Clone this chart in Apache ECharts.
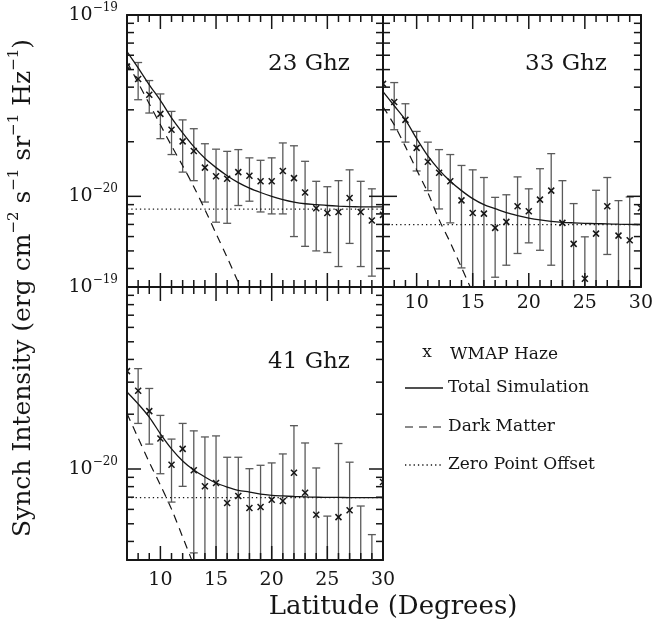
<!DOCTYPE html>
<html>
<head>
<meta charset="utf-8">
<script src="https://cdn.jsdelivr.net/npm/echarts@6/dist/echarts.min.js"></script>
<style>
  html, body { margin: 0; background: #fff; }
  #chart { width: 656px; height: 626px; }
  #err { position: absolute; left: 400px; top: 500px; font: 10px monospace; color: #c00; }
</style>
</head>
<body>
<div id="chart"></div>
<div id="err"></div>
<script>
// all intensities in units of 1e-20 erg cm^-2 s^-1 sr^-1 Hz^-1
const lat = [7, 8, 9, 10, 11, 12, 13, 14, 15, 16, 17, 18, 19, 20, 21, 22, 23, 24, 25, 26, 27, 28, 29, 30];

// 23 GHz
const haze23 = [5.19, 4.44, 3.63, 2.85, 2.33, 2.01, 1.78, 1.44, 1.29, 1.25, 1.36, 1.30, 1.21, 1.21, 1.38, 1.26, 1.05, 0.86, 0.81, 0.82, 0.98, 0.82, 0.735, 0.79];
const hi23 = [null, 5.47, 4.35, 3.67, 2.94, 2.64, 2.36, 1.95, 1.82, 1.77, 1.81, 1.63, 1.58, 1.63, 1.97, 1.90, 1.56, 1.21, 1.13, 1.22, 1.40, 1.21, 1.10, null];
const lo23 = [null, 3.41, 2.88, 2.08, 1.70, 1.36, 1.22, 0.93, 0.72, 0.71, 0.89, 0.94, 0.82, 0.80, 0.80, 0.60, 0.53, 0.50, 0.49, 0.41, 0.55, 0.41, 0.363, null];
const total23 = [6.28, 5.11, 4.12, 3.38, 2.71, 2.24, 1.88, 1.62, 1.44, 1.30, 1.19, 1.11, 1.05, 1.00, 0.96, 0.93, 0.91, 0.90, 0.89, 0.883, 0.878, 0.875, 0.874, 0.874];
const dmLat23 = [7, 8, 9, 10, 11, 12, 13, 14, 15, 16, 17, 18];
const dm23 = [5.51, 4.23, 3.24, 2.48, 1.90, 1.476, 1.13, 0.845, 0.623, 0.46, 0.335, 0.247];
const offset23 = 0.85;

// 33 GHz
const haze33 = [4.17, 3.31, 2.64, 1.85, 1.55, 1.35, 1.21, 0.95, 0.81, 0.803, 0.67, 0.723, 0.881, 0.827, 0.959, 1.075, 0.714, 0.547, 0.351, 0.623, 0.881, 0.607, 0.572, 0.863];
const hi33 = [null, 4.24, 3.24, 2.28, 1.99, 1.81, 1.70, 1.48, 1.40, 1.27, 0.987, 1.02, 1.28, 1.10, 1.42, 1.72, 1.22, 0.912, 0.598, 1.08, 1.27, 0.947, 0.992, null];
const lo33 = [null, 2.33, 1.99, 1.38, 1.075, 0.852, 0.714, 0.403, 0.1, 0.1, 0.358, 0.417, 0.484, 0.554, 0.504, 0.417, 0.1, 0.1, 0.1, 0.1, 0.478, 0.1, 0.1, null];
const total33 = [3.78, 3.16, 2.64, 2.08, 1.67, 1.40, 1.21, 1.075, 0.971, 0.90, 0.856, 0.813, 0.783, 0.759, 0.741, 0.728, 0.719, 0.714, 0.710, 0.707, 0.705, 0.702, 0.70, 0.698];
const dmLat33 = [7, 8, 9, 10, 11, 12, 13, 14, 15];
const dm33 = [3.12, 2.48, 1.88, 1.40, 1.048, 0.744, 0.556, 0.405, 0.295];
const offset33 = 0.698;

// 41 GHz
const haze41 = [3.45, 2.69, 2.08, 1.47, 1.056, 1.29, 0.984, 0.803, 0.838, 0.65, 0.71, 0.61, 0.618, 0.678, 0.667, 0.954, 0.741, 0.561, 0.2, 0.544, 0.593, 0.2, 0.2, 0.848];
const hi41 = [null, 3.56, 2.77, 1.97, 1.46, 1.78, 1.62, 1.50, 1.52, 1.16, 1.16, 1.004, 1.048, 1.08, 1.21, 1.73, 1.39, 1.013, 0.551, 1.38, 1.09, 0.626, 0.436, null];
const lo41 = [null, 1.78, 1.37, 0.942, 0.658, 0.803, 0.346, 0.1, 0.1, 0.1, 0.1, 0.1, 0.1, 0.1, 0.1, 0.1, 0.1, 0.1, 0.1, 0.1, 0.1, 0.1, 0.1, null];
const total41 = [2.65, 2.28, 1.93, 1.56, 1.29, 1.107, 0.987, 0.904, 0.838, 0.796, 0.764, 0.747, 0.728, 0.717, 0.711, 0.706, 0.703, 0.700, 0.698, 0.698, 0.697, 0.697, 0.697, 0.697];
const dmLat41 = [7, 8, 9, 10, 11, 12, 13];
const dm41 = [2.02, 1.48, 1.09, 0.816, 0.602, 0.423, 0.296];
const offset41 = 0.697;

const offsetLat = [7, 30];

const xMajor = [10, 15, 20, 25, 30];
const xMinor = [8, 9, 11, 12, 13, 14, 16, 17, 18, 19, 21, 22, 23, 24, 26, 27, 28, 29];
const yMajor = [1, 10];
const yMinor = [0.4, 0.5, 0.6, 0.7, 0.8, 0.9, 2, 3, 4, 5, 6, 7, 8, 9];

const X_MIN = 7, X_MAX = 30, Y_MIN = 0.316228, Y_MAX = 10;

const FONT = 'DejaVu Serif';
const INK = '#161616';

const panels = [
  { grid: { left: 127, top: 15, width: 256, height: 272 }, showX: false, showY: true, margin: 8,
    haze: haze23, hi: hi23, lo: lo23, total: total23, dmLat: dmLat23, dm: dm23, offset: offset23 },
  { grid: { left: 383, top: 15, width: 259, height: 272 }, showX: true, showY: false, margin: 7,
    haze: haze33, hi: hi33, lo: lo33, total: total33, dmLat: dmLat33, dm: dm33, offset: offset33 },
  { grid: { left: 127, top: 287, width: 256, height: 273 }, showX: true, showY: true, margin: 11,
    haze: haze41, hi: hi41, lo: lo41, total: total41, dmLat: dmLat41, dm: dm41, offset: offset41 }
];

const xAxes = [];
const yAxes = [];
const series = [];

panels.forEach((p, g) => {
  ['bottom', 'top'].forEach((pos) => {
    xAxes.push({
      gridIndex: g, type: 'value', min: X_MIN, max: X_MAX, position: pos,
      axisLine: { show: true, onZero: false, lineStyle: { color: INK, width: 2 } },
      axisTick: { show: false },
      axisLabel: {
        show: p.showX && pos === 'bottom', customValues: xMajor, margin: p.margin,
        fontFamily: FONT, fontSize: 19, color: INK
      },
      splitLine: { show: false }
    });
  });
  ['left', 'right'].forEach((pos) => {
    yAxes.push({
      gridIndex: g, type: 'log', logBase: 10, min: Y_MIN, max: Y_MAX, position: pos,
      axisLine: { show: true, onZero: false, lineStyle: { color: INK, width: 2 } },
      axisTick: { show: false },
      axisLabel: {
        show: p.showY && pos === 'left', customValues: yMajor, margin: 9,
        formatter: (v) => (v > 3 ? '{b|10}{s|\u221219}' : '{b|10}{s|\u221220}'),
        rich: {
          b: { fontFamily: FONT, fontSize: 19, color: INK, lineHeight: 26 },
          s: { fontFamily: FONT, fontSize: 12, color: INK, verticalAlign: 'top', lineHeight: 14 }
        }
      },
      splitLine: { show: false }
    });
  });

  const xi = g * 2, yi = g * 2;

  series.push({
    type: 'line', xAxisIndex: xi, yAxisIndex: yi,
    data: lat.map((x, i) => [x, p.total[i]]),
    smooth: 0.3, symbol: 'none', silent: true,
    lineStyle: { color: INK, width: 1.3 }
  });
  series.push({
    type: 'line', xAxisIndex: xi, yAxisIndex: yi,
    data: p.dmLat.map((x, i) => [x, p.dm[i]]),
    smooth: 0.3, symbol: 'none', silent: true,
    lineStyle: { color: INK, width: 1.2, type: [8, 6] }
  });
  series.push({
    type: 'line', xAxisIndex: xi, yAxisIndex: yi,
    data: offsetLat.map((x) => [x, p.offset]),
    symbol: 'none', silent: true,
    lineStyle: { color: INK, width: 1.3, type: [1.3, 3] }
  });
  series.push({
    type: 'custom', xAxisIndex: xi, yAxisIndex: yi, clip: true, silent: true,
    data: lat.map((x, i) => [x, p.haze[i]]),
    renderItem: (params, api) => {
      const i = params.dataIndex;
      const x = api.value(0);
      const c = api.coord([x, api.value(1)]);
      const bar = { stroke: '#5a5a5a', lineWidth: 1.3 };
      const mark = { stroke: INK, lineWidth: 1.5 };
      const kids = [];
      if (p.hi[i] != null) {
        const t = api.coord([x, p.hi[i]]);
        const b = api.coord([x, p.lo[i]]);
        kids.push({ type: 'line', shape: { x1: c[0], y1: t[1], x2: c[0], y2: b[1] }, style: bar });
        kids.push({ type: 'line', shape: { x1: c[0] - 4, y1: t[1], x2: c[0] + 4, y2: t[1] }, style: bar });
        kids.push({ type: 'line', shape: { x1: c[0] - 4, y1: b[1], x2: c[0] + 4, y2: b[1] }, style: bar });
      }
      kids.push({ type: 'line', shape: { x1: c[0] - 3, y1: c[1] - 3, x2: c[0] + 3, y2: c[1] + 3 }, style: mark });
      kids.push({ type: 'line', shape: { x1: c[0] - 3, y1: c[1] + 3, x2: c[0] + 3, y2: c[1] - 3 }, style: mark });
      return { type: 'group', children: kids };
    }
  });
});

function label(text, x, y, size, align) {
  return {
    type: 'text', x: x, y: y, silent: true,
    style: {
      text: text, fill: INK, font: size + 'px "' + FONT + '"',
      align: align || 'center', textAlign: align || 'center',
      verticalAlign: 'middle', textVerticalAlign: 'middle'
    }
  };
}

function seg(x1, y1, x2, y2, extra) {
  return { type: 'line', silent: true, z: 100, shape: { x1: x1, y1: y1, x2: x2, y2: y2 },
    style: Object.assign({ stroke: INK, lineWidth: 1.5 }, extra || {}) };
}

const legendY = [355, 388, 427, 465];

const graphic = [
  label('23 Ghz', 309, 64, 23),
  label('33 Ghz', 566, 64, 23),
  label('41 Ghz', 309, 362, 23),
  label('Latitude (Degrees)', 393, 607, 26),
  {
    type: 'text', x: 23, y: 288, rotation: Math.PI / 2, silent: true,
    style: {
      text: '{a|Synch Intensity (erg cm}{s|\u22122}{a| s}{s|\u22121}{a| sr}{s|\u22121}{a| Hz}{s|\u22121}{a|)}',
      align: 'center', textAlign: 'center', verticalAlign: 'middle', textVerticalAlign: 'middle',
      rich: {
        a: { fontFamily: FONT, fontSize: 25, fill: INK, lineHeight: 32 },
        s: { fontFamily: FONT, fontSize: 15, fill: INK, verticalAlign: 'top', lineHeight: 17 }
      }
    }
  },
  label('x', 427, legendY[0] - 2, 17),
  label('WMAP Haze', 450, legendY[0], 17, 'left'),
  seg(405, legendY[1], 443, legendY[1], { lineWidth: 1.3 }),
  label('Total Simulation', 448, legendY[1], 17, 'left'),
  seg(405, legendY[2], 443, legendY[2], { lineWidth: 1.2, lineDash: [8, 6] }),
  label('Dark Matter', 448, legendY[2], 17, 'left'),
  seg(405, legendY[3], 443, legendY[3], { lineWidth: 1.3, lineDash: [1.3, 3] }),
  label('Zero Point Offset', 448, legendY[3], 17, 'left')
];

const chart = echarts.init(document.getElementById('chart'), null, { renderer: 'canvas' });

// first pass: axes and data only, so the scales exist for pixel conversion
chart.setOption({
  animation: false,
  backgroundColor: '#fff',
  grid: panels.map((p) => p.grid),
  xAxis: xAxes,
  yAxis: yAxes,
  series: series
});

// inward ticks on all four sides of each panel, placed through the axes' scales
const ticks = [];
try {
  panels.forEach((p, g) => {
    const f = { xAxisIndex: g * 2, yAxisIndex: g * 2 };
    const lt = chart.convertToPixel(f, [X_MIN, Y_MAX]);
    const rb = chart.convertToPixel(f, [X_MAX, Y_MIN]);
    const tickX = (v, len) => {
      const px = chart.convertToPixel(f, [v, 1])[0];
      ticks.push(seg(px, rb[1], px, rb[1] - len));
      ticks.push(seg(px, lt[1], px, lt[1] + len));
    };
    const tickY = (v, len) => {
      const py = chart.convertToPixel(f, [10, v])[1];
      ticks.push(seg(lt[0], py, lt[0] + len, py));
      ticks.push(seg(rb[0], py, rb[0] - len, py));
    };
    xMajor.forEach((v) => tickX(v, 14));
    xMinor.forEach((v) => tickX(v, 7));
    yMajor.forEach((v) => tickY(v, 14));
    yMinor.forEach((v) => tickY(v, 7));
  });
} catch (e) {
  document.getElementById('err').textContent = 'tick error: ' + e.message;
}

// second pass: ticks first, then titles and legend, set once (no merging)
chart.setOption({ graphic: ticks.concat(graphic) });
</script>
</body>
</html>
